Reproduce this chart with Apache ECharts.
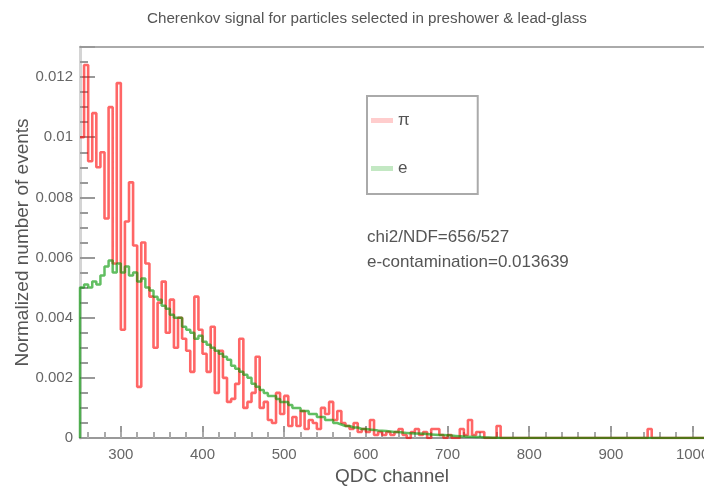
<!DOCTYPE html>
<html>
<head>
<meta charset="utf-8">
<script src="https://cdn.jsdelivr.net/npm/echarts@6/dist/echarts.min.js"></script>
<style>
  html, body { margin: 0; padding: 0; background: #fff; }
  #chart { width: 704px; height: 486px; }
</style>
</head>
<body>
<div id="chart"></div>
<script>
// Histogram binning (QDC channels)
const binStart = 250;
const binWidth = 5;

// Normalized pion spectrum, one value per bin starting at binStart
const piValues = [
  0.0100, 0.0124, 0.0092, 0.0108, 0.0090, 0.0095, 0.0073, 0.0110, 0.0058, 0.0118,
  0.0036, 0.0072, 0.0085, 0.0064, 0.0017, 0.0065, 0.0058, 0.0047, 0.0030, 0.0045,
  0.0052, 0.0035, 0.0046, 0.0030, 0.0040, 0.0033, 0.0029, 0.0022, 0.0047, 0.0036,
  0.0028, 0.0022, 0.0037, 0.0015, 0.0029, 0.0020, 0.0012, 0.0013, 0.0018, 0.0033,
  0.0010, 0.0012, 0.0015, 0.0027, 0.0010, 0.0012, 0.0006, 0.0005, 0.0015, 0.0008,
  0.0014, 0.0004, 0.0007, 0.0004, 0.0009, 0.0003, 0.0006, 0.0005, 0.0003, 0.0010,
  0.0008, 0.0012, 0.0006, 0.0009, 0.0005, 0.0004, 0.0003, 0.0005, 0.0002, 0.0003,
  0.0002, 0.0006, 0.0001, 0.0002, 0.0001, 0.0002, 0.0001, 0.0002, 0.0003, 0.0001,
  0,      0.0002, 0.0003, 0.0001, 0.0002, 0,      0.0003, 0.0003, 0.0001, 0,
  0.0001, 0,      0,      0.0003, 0.0001, 0.0006, 0.0001, 0.0002, 0.0002, 0,
  0,      0,      0.0004, 0,      0,      0,      0,      0,      0,      0,
  0,      0,      0,      0,      0,      0,      0,      0,      0,      0,
  0,      0,      0,      0,      0,      0,      0,      0,      0,      0,
  0,      0,      0,      0,      0,      0,      0,      0,      0,      0.0003,
  0,      0,      0,      0,      0,      0,      0,      0,      0,      0,
  0,      0,      0
];

// Normalized electron spectrum, same binning
const eValues = [
  0.0050, 0.0051, 0.0050, 0.0052, 0.0051, 0.0054, 0.0057, 0.0059, 0.0055, 0.0058,
  0.0055, 0.0057, 0.0054, 0.0055, 0.0052, 0.0053, 0.0050, 0.0049, 0.0047, 0.0046,
  0.0044, 0.0043, 0.0041, 0.0040, 0.0040, 0.0037, 0.0036, 0.0035, 0.0033, 0.0034,
  0.0032, 0.0031, 0.0030, 0.0029, 0.0028, 0.0027, 0.0026, 0.0024, 0.0023, 0.0022,
  0.0021, 0.0020, 0.0018, 0.0017, 0.0016, 0.0015, 0.0014, 0.0014, 0.0013, 0.0012,
  0.0012, 0.0011, 0.0010, 0.0010, 0.0009, 0.0009, 0.0008, 0.0008, 0.0007, 0.0007,
  0.0006, 0.0006, 0.0005, 0.00045, 0.0004, 0.0004, 0.00035, 0.00035, 0.0003, 0.0003,
  0.00028, 0.00027, 0.00025, 0.00024, 0.00023, 0.00022, 0.0002, 0.0002, 0.00018, 0.00017,
  0.00016, 0.00015, 0.00015, 0.00014, 0.00013, 0.00012, 0.00011, 0.0001, 0.0001, 0.00009,
  0.00008, 0.00007, 0.00006, 0.00005, 0.00004, 0.00004, 0.00003, 0.00003, 0.00002, 0.00002,
  0.00001, 0.00001, 0,    0,      0,      0,      0,      0,      0,      0,
  0,      0,      0,      0,      0,      0,      0,      0,      0,      0,
  0,      0,      0,      0,      0,      0,      0,      0,      0,      0,
  0,      0,      0,      0,      0,      0,      0,      0,      0,      0,
  0,      0,      0,      0,      0,      0,      0,      0,      0,      0,
  0,      0,      0
];

// Axis ticks
const xMajorTicks = [300, 400, 500, 600, 700, 800, 900, 1000];
const xRange = [250, 1014];
const yRange = [0, 0.013];

const xMinorTicks = [];
for (let v = 260; v <= 1010; v += 20) xMinorTicks.push(v);

// Histogram outline: one step per bin, optionally closed down to zero at the first edge
function histPoints(vals, closeLeft) {
  const pts = closeLeft ? [[binStart, 0]] : [];
  vals.forEach((v, i) => pts.push([binStart + i * binWidth, v]));
  pts.push([binStart + vals.length * binWidth, vals[vals.length - 1]]);
  return pts;
}

const font = 'Liberation Sans, Arial, Helvetica, sans-serif';
const chart = echarts.init(document.getElementById('chart'), null, { renderer: 'canvas' });

chart.setOption({
  animation: false,
  backgroundColor: '#fff',
  textStyle: { fontFamily: font },
  title: {
    text: 'Cherenkov signal for particles selected in preshower & lead-glass',
    left: 142, top: 6,
    textStyle: { fontSize: 15.2, fontWeight: 'normal', color: '#555', fontFamily: font }
  },
  grid: { left: 80, right: 0, top: 47, bottom: 48, containLabel: false, outerBoundsMode: 'none' },
  legend: {
    orient: 'vertical',
    left: 367, top: 96,
    padding: [16, 68, 17, 4],
    itemGap: 31,
    itemWidth: 22, itemHeight: 5,
    icon: 'rect',
    borderColor: '#aaa', borderWidth: 2,
    textStyle: { fontSize: 17, color: '#555', fontFamily: font },
    data: [
      { name: 'π', itemStyle: { color: 'rgb(255,205,205)' } },
      { name: 'e', itemStyle: { color: 'rgb(195,232,195)' } }
    ]
  },
  xAxis: [
    {
      type: 'value', min: xRange[0], max: xRange[1], position: 'bottom',
      name: 'QDC channel', nameLocation: 'middle', nameGap: 29, nameMoveOverlap: false,
      nameTextStyle: { fontSize: 19, color: '#555', fontFamily: font },
      axisLine: { show: true, onZero: false, lineStyle: { color: '#999', width: 2 } },
      axisTick: { show: true, inside: true, length: 12, customValues: xMajorTicks, lineStyle: { color: '#999', width: 2 } },
      axisLabel: { customValues: xMajorTicks, formatter: (v) => String(v), fontSize: 15, color: '#666', margin: 9, fontFamily: font },
      splitLine: { show: false }
    },
    {
      type: 'value', min: xRange[0], max: xRange[1], position: 'bottom',
      axisLine: { show: false, onZero: false },
      axisTick: { show: true, inside: true, length: 6, customValues: xMinorTicks, lineStyle: { color: '#aaa', width: 2 } },
      axisLabel: { show: false },
      splitLine: { show: false }
    },
    {
      type: 'value', min: xRange[0], max: xRange[1], position: 'top',
      axisLine: { show: true, onZero: false, lineStyle: { color: '#aaa', width: 2 } },
      axisTick: { show: false }, axisLabel: { show: false }, splitLine: { show: false }
    }
  ],
  yAxis: {
    type: 'value', min: yRange[0], max: yRange[1], interval: 0.002,
    name: 'Normalized number of events', nameLocation: 'middle', nameGap: 48, nameMoveOverlap: false,
    nameTextStyle: { fontSize: 19, color: '#555', fontFamily: font },
    axisLine: { show: true, onZero: false, lineStyle: { color: '#d4d4d4', width: 3 } },
    axisTick: { show: true, inside: true, length: 15, lineStyle: { color: '#999', width: 2 } },
    minorTick: { show: true, splitNumber: 4, length: 8, lineStyle: { color: '#999', width: 2 } },
    axisLabel: { fontSize: 15, color: '#666', margin: 7, showMaxLabel: false, fontFamily: font },
    splitLine: { show: false }
  },
  graphic: [
    { type: 'text', left: 367, top: 229, style: { text: 'chi2/NDF=656/527', font: '17px ' + font, fill: '#555' } },
    { type: 'text', left: 367, top: 254, style: { text: 'e-contamination=0.013639', font: '17px ' + font, fill: '#555' } }
  ],
  series: [
    {
      name: 'π', type: 'line', step: 'end', xAxisIndex: 0,
      data: histPoints(piValues, false), showSymbol: false, clip: true,
      lineStyle: { color: 'rgba(255,0,0,0.6)', width: 2.6 },
      itemStyle: { color: 'rgb(255,205,205)' }
    },
    {
      name: 'e', type: 'line', step: 'end', xAxisIndex: 0,
      data: histPoints(eValues, true), showSymbol: false, clip: true,
      lineStyle: { color: 'rgba(0,150,0,0.62)', width: 2.5 },
      itemStyle: { color: 'rgb(195,232,195)' }
    }
  ]
});
</script>
</body>
</html>
